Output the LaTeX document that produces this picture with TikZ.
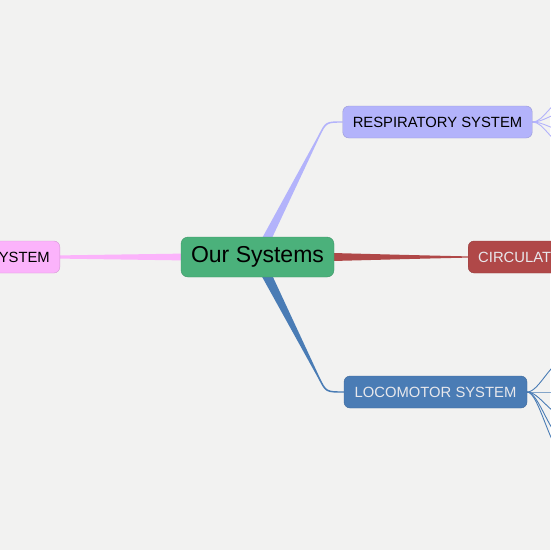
\documentclass[tikz,border=0pt]{standalone}
\usepackage{fontspec}
\setmainfont{Liberation Sans}
\usetikzlibrary{calc,backgrounds}

\definecolor{bggray}{RGB}{242,242,241}
\definecolor{sysgreen}{RGB}{75,177,123}
\definecolor{syslav}{RGB}{179,179,251}
\definecolor{sysred}{RGB}{176,72,72}
\definecolor{sysblue}{RGB}{74,124,181}
\definecolor{syspink}{RGB}{251,179,251}
\definecolor{lighttext}{RGB}{232,232,236}

\tikzset{
  rootbox/.style={draw=sysgreen!85!black, fill=sysgreen, rounded corners=7pt,
    minimum width=153pt, minimum height=40pt, font=\fontsize{23}{27}\selectfont},
  sysbox/.style={draw=#1!85!black, fill=#1, rounded corners=6pt,
    minimum height=32pt, inner xsep=10pt, font=\fontsize{14.8}{17}\selectfont},
  fanline/.style={draw=#1, line width=0.9pt}
}

\begin{document}
\begin{tikzpicture}[x=1pt,y=-1pt]
  \useasboundingbox (0,0) rectangle (550,550);

  \node[rootbox] (ours) at (257.5,257) {Our Systems};
  \node[sysbox=syslav, minimum width=187pt] (resp) at (437.5,122) {RESPIRATORY SYSTEM};
  \node[sysbox=sysred, text=lighttext, anchor=west] (circ) at (468,257) {CIRCULATORY SYSTEM};
  \node[sysbox=sysblue, text=lighttext, minimum width=183pt] (loco) at (435.5,392) {LOCOMOTOR SYSTEM};
  \node[sysbox=syspink, anchor=east] (dige) at (60,257) {DIGESTIVE SYSTEM};

  % free ends of the fans
  \foreach \y [count=\i] in {100,113,130,144}
    \coordinate (r\i) at (565,\y);
  \foreach \y [count=\i] in {360,392,416,440,455}
    \coordinate (l\i) at (565,\y);

  \begin{pgfonlayer}{background}
    \fill[bggray] (0,0) rectangle (550,550);

    % tapered branches
    \fill[syspink] ($(ours.center)+(0,-4.5)$) -- ($(dige.east)+(0,-1.6)$)
      -- ($(dige.east)+(0,1.6)$) -- ($(ours.center)+(0,4.5)$) -- cycle;
    \fill[sysred] ($(ours.center)+(0,-6)$) .. controls ($(circ.west)+(-60,-2)$)
      .. ($(circ.west)+(0,-0.6)$) -- ($(circ.west)+(0,0.6)$)
      .. controls ($(circ.west)+(-60,2)$) .. ($(ours.center)+(0,6)$) -- cycle;
    \fill[syslav] ($(ours.center)+(-4.5,-2.3)$) -- (318.3,135.6)
      .. controls (325.5,121.3) .. ($(resp.west)+(0,-0.7)$)
      -- ($(resp.west)+(0,0.7)$) .. controls (326.5,122.7) .. (319.7,136.4)
      -- ($(ours.center)+(4.5,2.3)$) -- cycle;
    \fill[sysblue] ($(ours.center)+(-5,2.5)$) -- (318.3,378.4)
      .. controls (325.5,392.7) .. ($(loco.west)+(0,0.7)$)
      -- ($(loco.west)+(0,-0.7)$) .. controls (326.5,391.3) .. (319.7,377.6)
      -- ($(ours.center)+(5,-2.5)$) -- cycle;

    % fans
    \foreach \i in {1,...,4}
      \draw[fanline=syslav] (resp.east) .. controls +(12,0) and +(-14,0) .. (r\i);
    \foreach \i in {1,...,5}
      \draw[fanline=sysblue] (loco.east) .. controls +(12,0) and +(-14,0) .. (l\i);
  \end{pgfonlayer}
\end{tikzpicture}
\end{document}
